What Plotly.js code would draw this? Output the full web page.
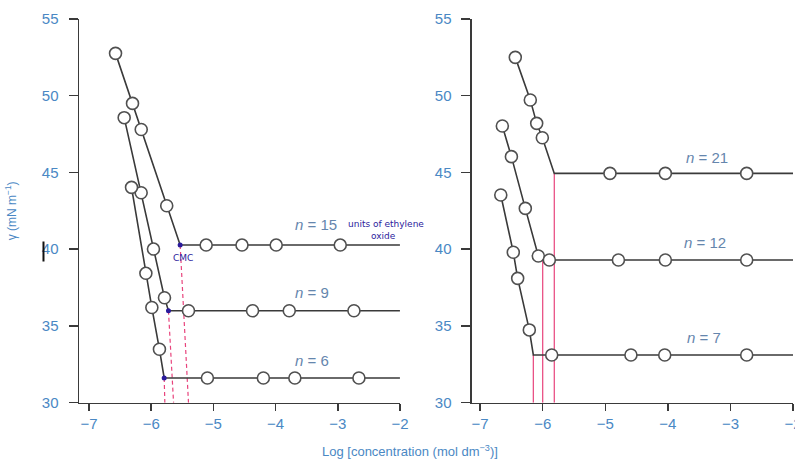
<!DOCTYPE html>
<html>
<head>
<meta charset="utf-8">
<script src="https://cdn.plot.ly/plotly-3.0.1.min.js"></script>
<style>html,body{margin:0;padding:0;background:#fff;}#chart{width:795px;height:461px;}</style>
</head>
<body>
<div id="chart"></div>
<script>
// ---------- DATA ----------
// Left panel: n = 15, 9, 6 ethylene-oxide units
const n15_steepX = [-6.573, -6.30, -6.16, -5.75];
const n15_steepY = [52.76, 49.5, 47.8, 42.83];
const n15_cmcX = -5.534;
const n15_plateau = 40.27;
const n15_flatX = [-5.116, -4.54, -3.99, -2.96];
const n15_dashEndX = -5.40;

const n9_steepX = [-6.434, -6.161, -5.963, -5.786];
const n9_steepY = [48.57, 43.68, 40.01, 36.84];
const n9_cmcX = -5.722;
const n9_plateau = 35.99;
const n9_flatX = [-5.40, -4.37, -3.78, -2.74];
const n9_dashEndX = -5.64;

const n6_steepX = [-6.316, -6.085, -5.989, -5.867];
const n6_steepY = [44.03, 38.43, 36.2, 33.48];
const n6_cmcX = -5.791;
const n6_plateau = 31.61;
const n6_flatX = [-5.096, -4.196, -3.69, -2.66];
const n6_dashEndX = -5.78;

// Right panel: n = 21, 12, 7
const n21_steepX = [-6.438, -6.198, -6.096, -6.006];
const n21_steepY = [52.50, 49.72, 48.20, 47.26];
const n21_cmcX = -5.815;
const n21_plateau = 44.94;
const n21_flatX = [-4.925, -4.04, -2.74];

const n12_steepX = [-6.645, -6.50, -6.278, -6.07];
const n12_steepY = [48.03, 46.03, 42.66, 39.56];
const n12_cmcX = -6.0;
const n12_plateau = 39.3;
const n12_flatX = [-5.894, -4.79, -4.04, -2.74];

const n7_steepX = [-6.67, -6.47, -6.40, -6.214];
const n7_steepY = [43.53, 39.80, 38.10, 34.74];
const n7_cmcX = -6.15;
const n7_plateau = 33.11;
const n7_flatX = [-5.856, -4.59, -4.05, -2.74];

const xTicks = [-7, -6, -5, -4, -3, -2];
const yTicks = [30, 35, 40, 45, 50, 55];
const xMax = -2;

const leftLabels = ["<i>n</i> = 15", "<i>n</i> = 9", "<i>n</i> = 6"];
const rightLabels = ["<i>n</i> = 21", "<i>n</i> = 12", "<i>n</i> = 7"];

// ---------- STYLE ----------
const lineCol = '#3a3a3a';
const tickCol = '#4a88c4';
const labelCol = '#6586ad';
const pink = '#e8437c';
const ink = '#2b1b9c';

const series = {
  left: [
    {sx: n15_steepX, sy: n15_steepY, cx: n15_cmcX, p: n15_plateau, fx: n15_flatX, dx: n15_dashEndX},
    {sx: n9_steepX, sy: n9_steepY, cx: n9_cmcX, p: n9_plateau, fx: n9_flatX, dx: n9_dashEndX},
    {sx: n6_steepX, sy: n6_steepY, cx: n6_cmcX, p: n6_plateau, fx: n6_flatX, dx: n6_dashEndX}
  ],
  right: [
    {sx: n21_steepX, sy: n21_steepY, cx: n21_cmcX, p: n21_plateau, fx: n21_flatX},
    {sx: n12_steepX, sy: n12_steepY, cx: n12_cmcX, p: n12_plateau, fx: n12_flatX},
    {sx: n7_steepX, sy: n7_steepY, cx: n7_cmcX, p: n7_plateau, fx: n7_flatX}
  ]
};

const traces = [];
const shapes = [];

function addSeries(s, xa, ya, dotCMC, dashed) {
  const lx = s.sx.concat([s.cx], s.fx, [xMax]);
  const ly = s.sy.concat([s.p], s.fx.map(() => s.p), [s.p]);
  traces.push({x: lx, y: ly, xaxis: xa, yaxis: ya, mode: 'lines', type: 'scatter',
    line: {color: lineCol, width: 1.6}, hoverinfo: 'skip', showlegend: false});
  // cmc guide line
  shapes.push({type: 'line', xref: xa, yref: ya, x0: s.cx, y0: s.p,
    x1: dashed ? s.dx : s.cx, y1: 30,
    line: {color: pink, width: 1.2, dash: dashed ? '4px,3px' : 'solid'}, layer: 'below'});
  if (dotCMC) {
    traces.push({x: [s.cx], y: [s.p], xaxis: xa, yaxis: ya, mode: 'markers', type: 'scatter',
      marker: {color: ink, size: 5}, showlegend: false, hoverinfo: 'skip'});
  }
  const mx = s.sx.concat(s.fx);
  const my = s.sy.concat(s.fx.map(() => s.p));
  traces.push({x: mx, y: my, xaxis: xa, yaxis: ya, mode: 'markers', type: 'scatter',
    marker: {color: '#ffffff', size: 12, line: {color: '#505050', width: 1.6}},
    showlegend: false});
}

series.left.forEach(s => addSeries(s, 'x', 'y', true, true));
series.right.forEach(s => addSeries(s, 'x2', 'y2', false, false));

// stray mark near the 40 tick
shapes.push({type: 'line', xref: 'paper', yref: 'y', x0: 0.0547, x1: 0.0547, y0: 39.2, y1: 40.5,
  line: {color: '#111', width: 2}});

const axisFont = {family: 'Liberation Sans, Arial, sans-serif', size: 15, color: tickCol};

function xAxis(domain, range, anchor) {
  return {domain: domain, range: range, anchor: anchor, showgrid: false, zeroline: false,
    showline: true, linecolor: lineCol, linewidth: 1.5, ticks: 'outside', ticklen: 7,
    tickwidth: 1.5, tickcolor: lineCol, tickvals: xTicks, tickfont: axisFont,
    ticklabeloverflow: 'allow', fixedrange: true};
}
function yAxis(domain, anchor, title) {
  const a = {domain: domain, range: [30, 55], anchor: anchor, showgrid: false, zeroline: false,
    showline: true, linecolor: lineCol, linewidth: 1.5, ticks: 'outside', ticklen: 9,
    tickwidth: 1.5, tickcolor: lineCol, tickvals: yTicks, tickfont: axisFont,
    ticklabelstandoff: 7, automargin: false, fixedrange: true};
  if (title) a.title = {text: title, font: {family: 'Liberation Sans, Arial, sans-serif', size: 12, color: tickCol}, standoff: 22};
  return a;
}

const yDom = [0.1265, 0.9588];
const nFont = {family: 'Liberation Sans, Arial, sans-serif', size: 15, color: labelCol};
const inkFont = {family: 'DejaVu Sans, sans-serif', size: 9, color: ink};

const annotations = [
  {xref: 'x', yref: 'y', x: -3.35, y: 41.58, text: leftLabels[0], showarrow: false, font: nFont},
  {xref: 'x', yref: 'y', x: -3.41, y: 37.2, text: leftLabels[1], showarrow: false, font: nFont},
  {xref: 'x', yref: 'y', x: -3.41, y: 32.78, text: leftLabels[2], showarrow: false, font: nFont},
  {xref: 'x2', yref: 'y2', x: -3.375, y: 46.0, text: rightLabels[0], showarrow: false, font: nFont},
  {xref: 'x2', yref: 'y2', x: -3.41, y: 40.42, text: rightLabels[1], showarrow: false, font: nFont},
  {xref: 'x2', yref: 'y2', x: -3.43, y: 34.26, text: rightLabels[2], showarrow: false, font: nFont},
  {xref: 'x', yref: 'y', x: -5.49, y: 39.4, text: 'CMC', showarrow: false, font: inkFont},
  {xref: 'x', yref: 'y', x: -2.87, y: 41.63, xanchor: 'left', text: 'units of ethylene', showarrow: false, font: inkFont},
  {xref: 'x', yref: 'y', x: -2.27, y: 40.86, text: 'oxide', showarrow: false, font: inkFont},
  {xref: 'paper', yref: 'paper', x: 0.516, y: 0.0217, yanchor: 'middle', text: 'Log [concentration (mol dm<sup>−3</sup>)]',
    showarrow: false, font: {family: 'Liberation Sans, Arial, sans-serif', size: 13, color: tickCol}}
];

const layout = {
  width: 795, height: 461,
  margin: {l: 0, r: 0, t: 0, b: 0},
  paper_bgcolor: '#ffffff', plot_bgcolor: '#ffffff',
  showlegend: false,
  xaxis: xAxis([0.0994, 0.5031], [-7.16, -2], 'y'),
  yaxis: yAxis(yDom, 'x', 'γ (mN m<sup>−1</sup>)'),
  xaxis2: xAxis([0.5937, 0.9975], [-7.13, -2], 'y2'),
  yaxis2: yAxis(yDom, 'x2', null),
  shapes: shapes,
  annotations: annotations
};

Plotly.newPlot('chart', traces, layout, {displayModeBar: false, staticPlot: true});
</script>
</body>
</html>
